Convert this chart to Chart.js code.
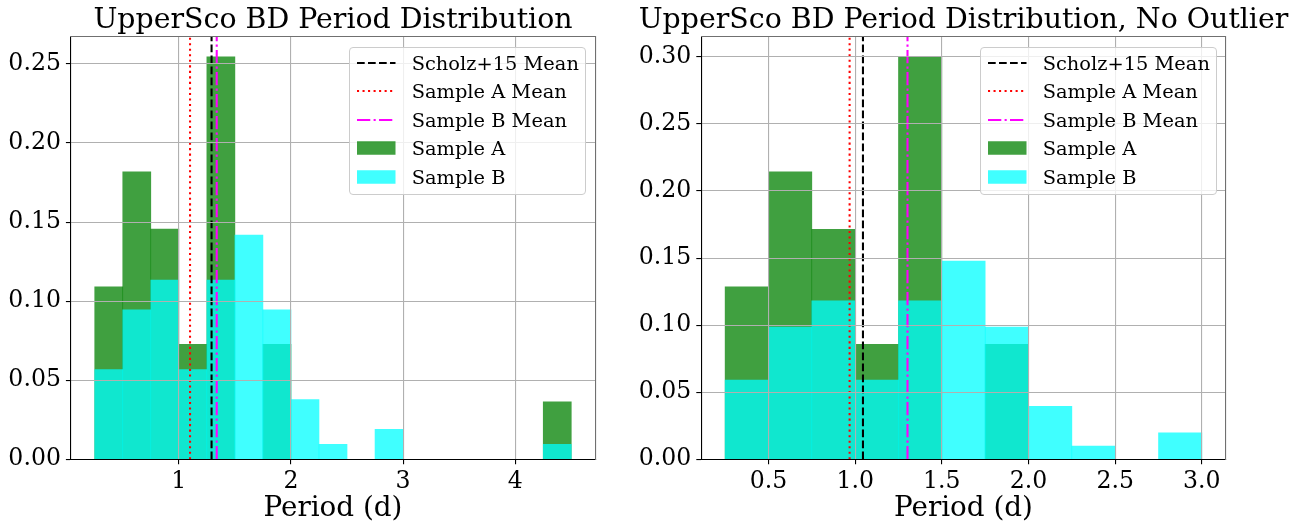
<!DOCTYPE html>
<html>
<head>
<meta charset="utf-8">
<title>UpperSco BD Period Distribution</title>
<script src="https://cdn.jsdelivr.net/npm/chart.js@4.4.0/dist/chart.umd.min.js"></script>
<style>
    html, body { margin: 0; padding: 0; background: #fff; }
    #wrap { position: relative; width: 1312px; height: 525px; overflow: hidden; font-family: 'DejaVu Serif', serif; }
    canvas { position: absolute; top: 0; }
    #chartAll { left: 0; }
    #chartCut { left: 615px; }
    .legend { position: absolute; width: 235px; height: 146.3px; border: 1px solid #cccccc; border-radius: 4px; background: rgba(255, 255, 255, 0.8); }
    .legend .row { position: absolute; left: 0; width: 100%; height: 28.5px; }
    .legend svg { position: absolute; left: 6.7px; top: 7.25px; }
    .legend span { position: absolute; left: 61.7px; top: 1.3px; font-size: 19.4px; line-height: 28.5px; white-space: nowrap; color: #000; }
</style>
</head>
<body>
<div id="wrap">
    <canvas id="chartAll" width="666" height="525"></canvas>
    <canvas id="chartCut" width="697" height="525"></canvas>
    <div class="legend" id="legendAll" style="left:349px; top:46.7px;"></div>
    <div class="legend" id="legendCut" style="left:980px; top:46.7px;"></div>
</div>
<script>
// histogram bin centres (bin width 0.25 d)
const binsAll = [0.375, 0.625, 0.875, 1.125, 1.375, 1.625, 1.875, 2.125, 2.375,
                 2.625, 2.875, 3.125, 3.375, 3.625, 3.875, 4.125, 4.375];
const binsCut = [0.375, 0.625, 0.875, 1.125, 1.375, 1.625, 1.875, 2.125, 2.375, 2.625, 2.875];

// normalised counts, full sample
const sampleA_all = [0.1091, 0.1818, 0.1455, 0.0727, 0.2545, 0, 0.0727, 0, 0,
                     0, 0, 0, 0, 0, 0, 0, 0.0364];
const sampleB_all = [0.0567, 0.0945, 0.1134, 0.0567, 0.1134, 0.1418, 0.0945, 0.0378, 0.0095,
                     0, 0.0189, 0, 0, 0, 0, 0, 0.0095];

// normalised counts, outlier removed
const sampleA_cut = [0.1286, 0.2143, 0.1714, 0.0857, 0.3000, 0, 0.0857, 0, 0, 0, 0];
const sampleB_cut = [0.0591, 0.0985, 0.1182, 0.0591, 0.1182, 0.1478, 0.0985, 0.0394, 0.0099, 0, 0.0197];

// mean periods (d)
const meansAll = { scholz: 1.292, a: 1.10, b: 1.338 };
const meansCut = { scholz: 1.045, a: 0.968, b: 1.302 };

const FONT = 'DejaVu Serif';

const lineStyles = {
    scholz: { label: 'Scholz+15 Mean', color: '#000000', dash: [7.7, 3.3] },
    a: { label: 'Sample A Mean', color: '#ff0000', dash: [2.08, 3.44] },
    b: { label: 'Sample B Mean', color: '#ff00ff', dash: [13.3, 3.3, 2.1, 3.3] }
};
const barStyles = {
    a: { label: 'Sample A', color: 'rgba(0, 128, 0, 0.75)' },
    b: { label: 'Sample B', color: 'rgba(0, 255, 255, 0.75)' }
};

function toPoints(bins, values){
    return bins.map((x, i) => ({ x: x, y: values[i] }));
}

function meanLine(style, x, yMax){
    return {
        type: 'line',
        label: style.label,
        data: [{ x: x, y: 0 }, { x: x, y: yMax }],
        borderColor: style.color,
        borderWidth: 2.08,
        borderDash: style.dash,
        pointRadius: 0,
        fill: false,
        order: 0,
        xAxisID: 'x',
        yAxisID: 'y'
    };
}

function histBars(style, bins, values, order){
    return {
        label: style.label,
        data: toPoints(bins, values),
        backgroundColor: style.color,
        borderWidth: 0,
        grouped: false,
        barPercentage: 1,
        categoryPercentage: 1,
        order: order,
        xAxisID: 'x',
        yAxisID: 'y'
    };
}

function frameAxis(position, side){
    return {
        type: 'linear',
        position: position,
        grid: { display: false, drawTicks: false },
        ticks: { display: false },
        border: { display: true, color: '#707070', width: 1.1, z: 2 },
        afterFit: (s) => {
            if (position === 'top') { s.height = 0; } else { s.width = side; }
        }
    };
}

function histChart(canvasId, cfg){
    const ctx = document.getElementById(canvasId).getContext('2d');
    return new Chart(ctx, {
        type: 'bar',
        data: {
            datasets: [
                meanLine(lineStyles.scholz, cfg.means.scholz, cfg.yMax),
                meanLine(lineStyles.a, cfg.means.a, cfg.yMax),
                meanLine(lineStyles.b, cfg.means.b, cfg.yMax),
                histBars(barStyles.a, cfg.bins, cfg.a, 2),
                histBars(barStyles.b, cfg.bins, cfg.b, 1)
            ]
        },
        options: {
            responsive: false,
            animation: false,
            devicePixelRatio: 1,
            events: [],
            layout: { padding: 0 },
            plugins: {
                legend: { display: false },
                tooltip: { enabled: false },
                title: {
                    display: true,
                    text: cfg.title,
                    color: '#000',
                    font: { family: FONT, size: 28.4, weight: 'normal', lineHeight: 1.1 },
                    padding: { top: 4.9, bottom: 0.6 }
                }
            },
            scales: {
                x: {
                    type: 'linear',
                    position: 'bottom',
                    min: cfg.xMin,
                    max: cfg.xMax,
                    offset: false,
                    grid: { offset: false, color: '#b0b0b0', lineWidth: 1.1, tickColor: '#000', tickLength: 5, tickWidth: 1.1, z: 1 },
                    border: { color: '#000', width: 1.1, z: 2 },
                    ticks: {
                        stepSize: cfg.xStep,
                        includeBounds: false,
                        autoSkip: false,
                        maxRotation: 0,
                        padding: 3.2,
                        color: '#000',
                        font: { family: FONT, size: 23.6 },
                        callback: (v) => v.toFixed(cfg.xDigits)
                    },
                    title: {
                        display: true,
                        text: 'Period (d)',
                        color: '#000',
                        font: { family: FONT, size: 27.8, lineHeight: 1 },
                        padding: { top: 0, bottom: 2 }
                    },
                    afterFit: (s) => { s.height = 65.7; }
                },
                y: {
                    position: 'left',
                    min: 0,
                    max: cfg.yMax,
                    grid: { color: '#b0b0b0', lineWidth: 1.1, tickColor: '#000', tickLength: 5, tickWidth: 1.1, z: 1 },
                    border: { color: '#000', width: 1.1, z: 2 },
                    ticks: {
                        stepSize: 0.05,
                        includeBounds: false,
                        padding: 5,
                        color: '#000',
                        font: { family: FONT, size: 23.6 },
                        callback: (v) => v.toFixed(2)
                    },
                    afterFit: (s) => { s.width = cfg.side; }
                },
                x2: frameAxis('top', cfg.side),
                y2: frameAxis('right', cfg.side)
            }
        }
    });
}

function buildLegend(id){
    const box = document.getElementById(id);
    const rows = [
        { style: lineStyles.scholz, kind: 'line' },
        { style: lineStyles.a, kind: 'line' },
        { style: lineStyles.b, kind: 'line' },
        { style: barStyles.a, kind: 'patch' },
        { style: barStyles.b, kind: 'patch' }
    ];
    rows.forEach((r, i) => {
        const row = document.createElement('div');
        row.className = 'row';
        row.style.top = (0.75 + i * 28.5) + 'px';
        let mark;
        if (r.kind === 'line') {
            mark = '<line x1="0" y1="7" x2="38.5" y2="7" stroke="' + r.style.color +
                   '" stroke-width="2.08" stroke-dasharray="' + r.style.dash.join(' ') + '"/>';
        } else {
            mark = '<rect x="0" y="0.25" width="38.5" height="13.5" fill="' + r.style.color + '"/>';
        }
        row.innerHTML = '<svg width="39" height="14" xmlns="http://www.w3.org/2000/svg">' + mark + '</svg>';
        const txt = document.createElement('span');
        txt.textContent = r.style.label;
        row.appendChild(txt);
        box.appendChild(row);
    });
}

histChart('chartAll', {
    title: 'UpperSco BD Period Distribution',
    bins: binsAll, a: sampleA_all, b: sampleB_all, means: meansAll,
    xMin: 0.0375, xMax: 4.7125, xStep: 1, xDigits: 0,
    yMax: 0.2672, side: 70.9
});

histChart('chartCut', {
    title: 'UpperSco BD Period Distribution, No Outlier',
    bins: binsCut, a: sampleA_cut, b: sampleB_cut, means: meansCut,
    xMin: 0.1125, xMax: 3.1375, xStep: 0.5, xDigits: 1,
    yMax: 0.315, side: 86.3
});

buildLegend('legendAll');
buildLegend('legendCut');
</script>
</body>
</html>
